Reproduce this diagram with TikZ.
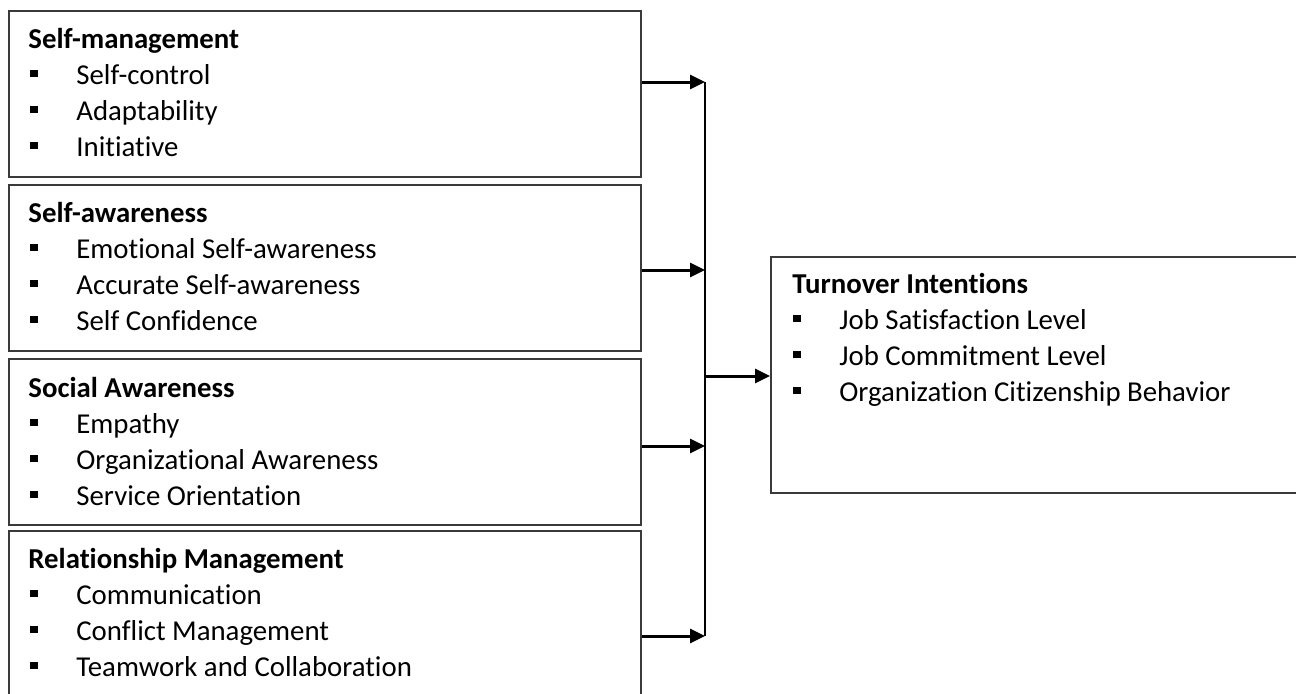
\documentclass[tikz,border=0pt]{standalone}
\usepackage{fontspec}
\setmainfont[Ligatures=NoCommon]{Carlito}
\usetikzlibrary{arrows.meta}

\definecolor{boxgray}{HTML}{3A3A3A}

\begin{document}
\begin{tikzpicture}[x=0.5pt,y=0.5pt]
\tikzset{factor/.style={draw=boxgray,line width=0.75pt,anchor=north west,inner sep=0pt,
    minimum width=316pt,minimum height=83pt}}
\tikzset{head/.style={anchor=base west,inner sep=0pt,font=\fontsize{14.4}{17}\selectfont\bfseries}}
\tikzset{item/.style={anchor=base west,inner sep=0pt,font=\fontsize{14.4}{17}\selectfont,
    execute at begin node={\rule[3.4pt]{3.7pt}{3.7pt}\hspace{19.3pt}}}}
\tikzset{link/.style={line width=1pt}}
\tikzset{flow/.style={line width=1.5pt,-{Triangle[length=7.5pt,width=7pt]}}}

\useasboundingbox (0,0) rectangle (1296,-693);

% the four competency clusters
\node[factor] (selfmgmt) at (8,-10) {};
\node[factor] (selfaware) at (8,-184) {};
\node[factor] (social) at (8,-358) {};
\node[factor] (relation) at (8,-530) {};

\node[head] (selfmgmt-h) at ([shift={(20,-38)}]selfmgmt.north west) {Self-management};
\foreach \t [count=\i] in {Self-control,Adaptability,Initiative}
  \node[item] (selfmgmt-\i) at ([shift={(22,-38-36*\i)}]selfmgmt.north west) {\t};

\node[head] (selfaware-h) at ([shift={(20,-38)}]selfaware.north west) {Self-awareness};
\foreach \t [count=\i] in {Emotional Self-awareness,Accurate Self-awareness,Self Confidence}
  \node[item] (selfaware-\i) at ([shift={(22,-38-36*\i)}]selfaware.north west) {\t};

\node[head] (social-h) at ([shift={(20,-39)}]social.north west) {Social Awareness};
\foreach \t [count=\i] in {Empathy,Organizational Awareness,Service Orientation}
  \node[item] (social-\i) at ([shift={(22,-39-36*\i)}]social.north west) {\t};

\node[head] (relation-h) at ([shift={(20,-38)}]relation.north west) {Relationship Management};
\foreach \t [count=\i] in {Communication,Conflict Management,Teamwork and Collaboration}
  \node[item] (relation-\i) at ([shift={(22,-38-36*\i)}]relation.north west) {\t};

% outcome
\node[factor,minimum width=300pt,minimum height=118pt] (turnover) at (770,-256) {};
\node[head] (turnover-h) at ([shift={(22,-37)}]turnover.north west) {Turnover Intentions};
\foreach \t [count=\i] in {Job Satisfaction Level,Job Commitment Level,Organization Citizenship Behavior}
  \node[item] (turnover-\i) at ([shift={(23,-37-36*\i)}]turnover.north west) {\t};

% collecting line
\coordinate (j1) at (705,-82);
\coordinate (j2) at (705,-270);
\coordinate (j3) at (705,-446);
\coordinate (j4) at (705,-636);
\coordinate (jout) at (705,-376);

\draw[link] (j1) -- (j4);
\foreach \b/\j in {selfmgmt/j1,selfaware/j2,social/j3,relation/j4}
  \draw[flow] (\b.east |- \j) -- (\j);
\draw[flow] (jout) -- (turnover.west |- jout);

\end{tikzpicture}
\end{document}
